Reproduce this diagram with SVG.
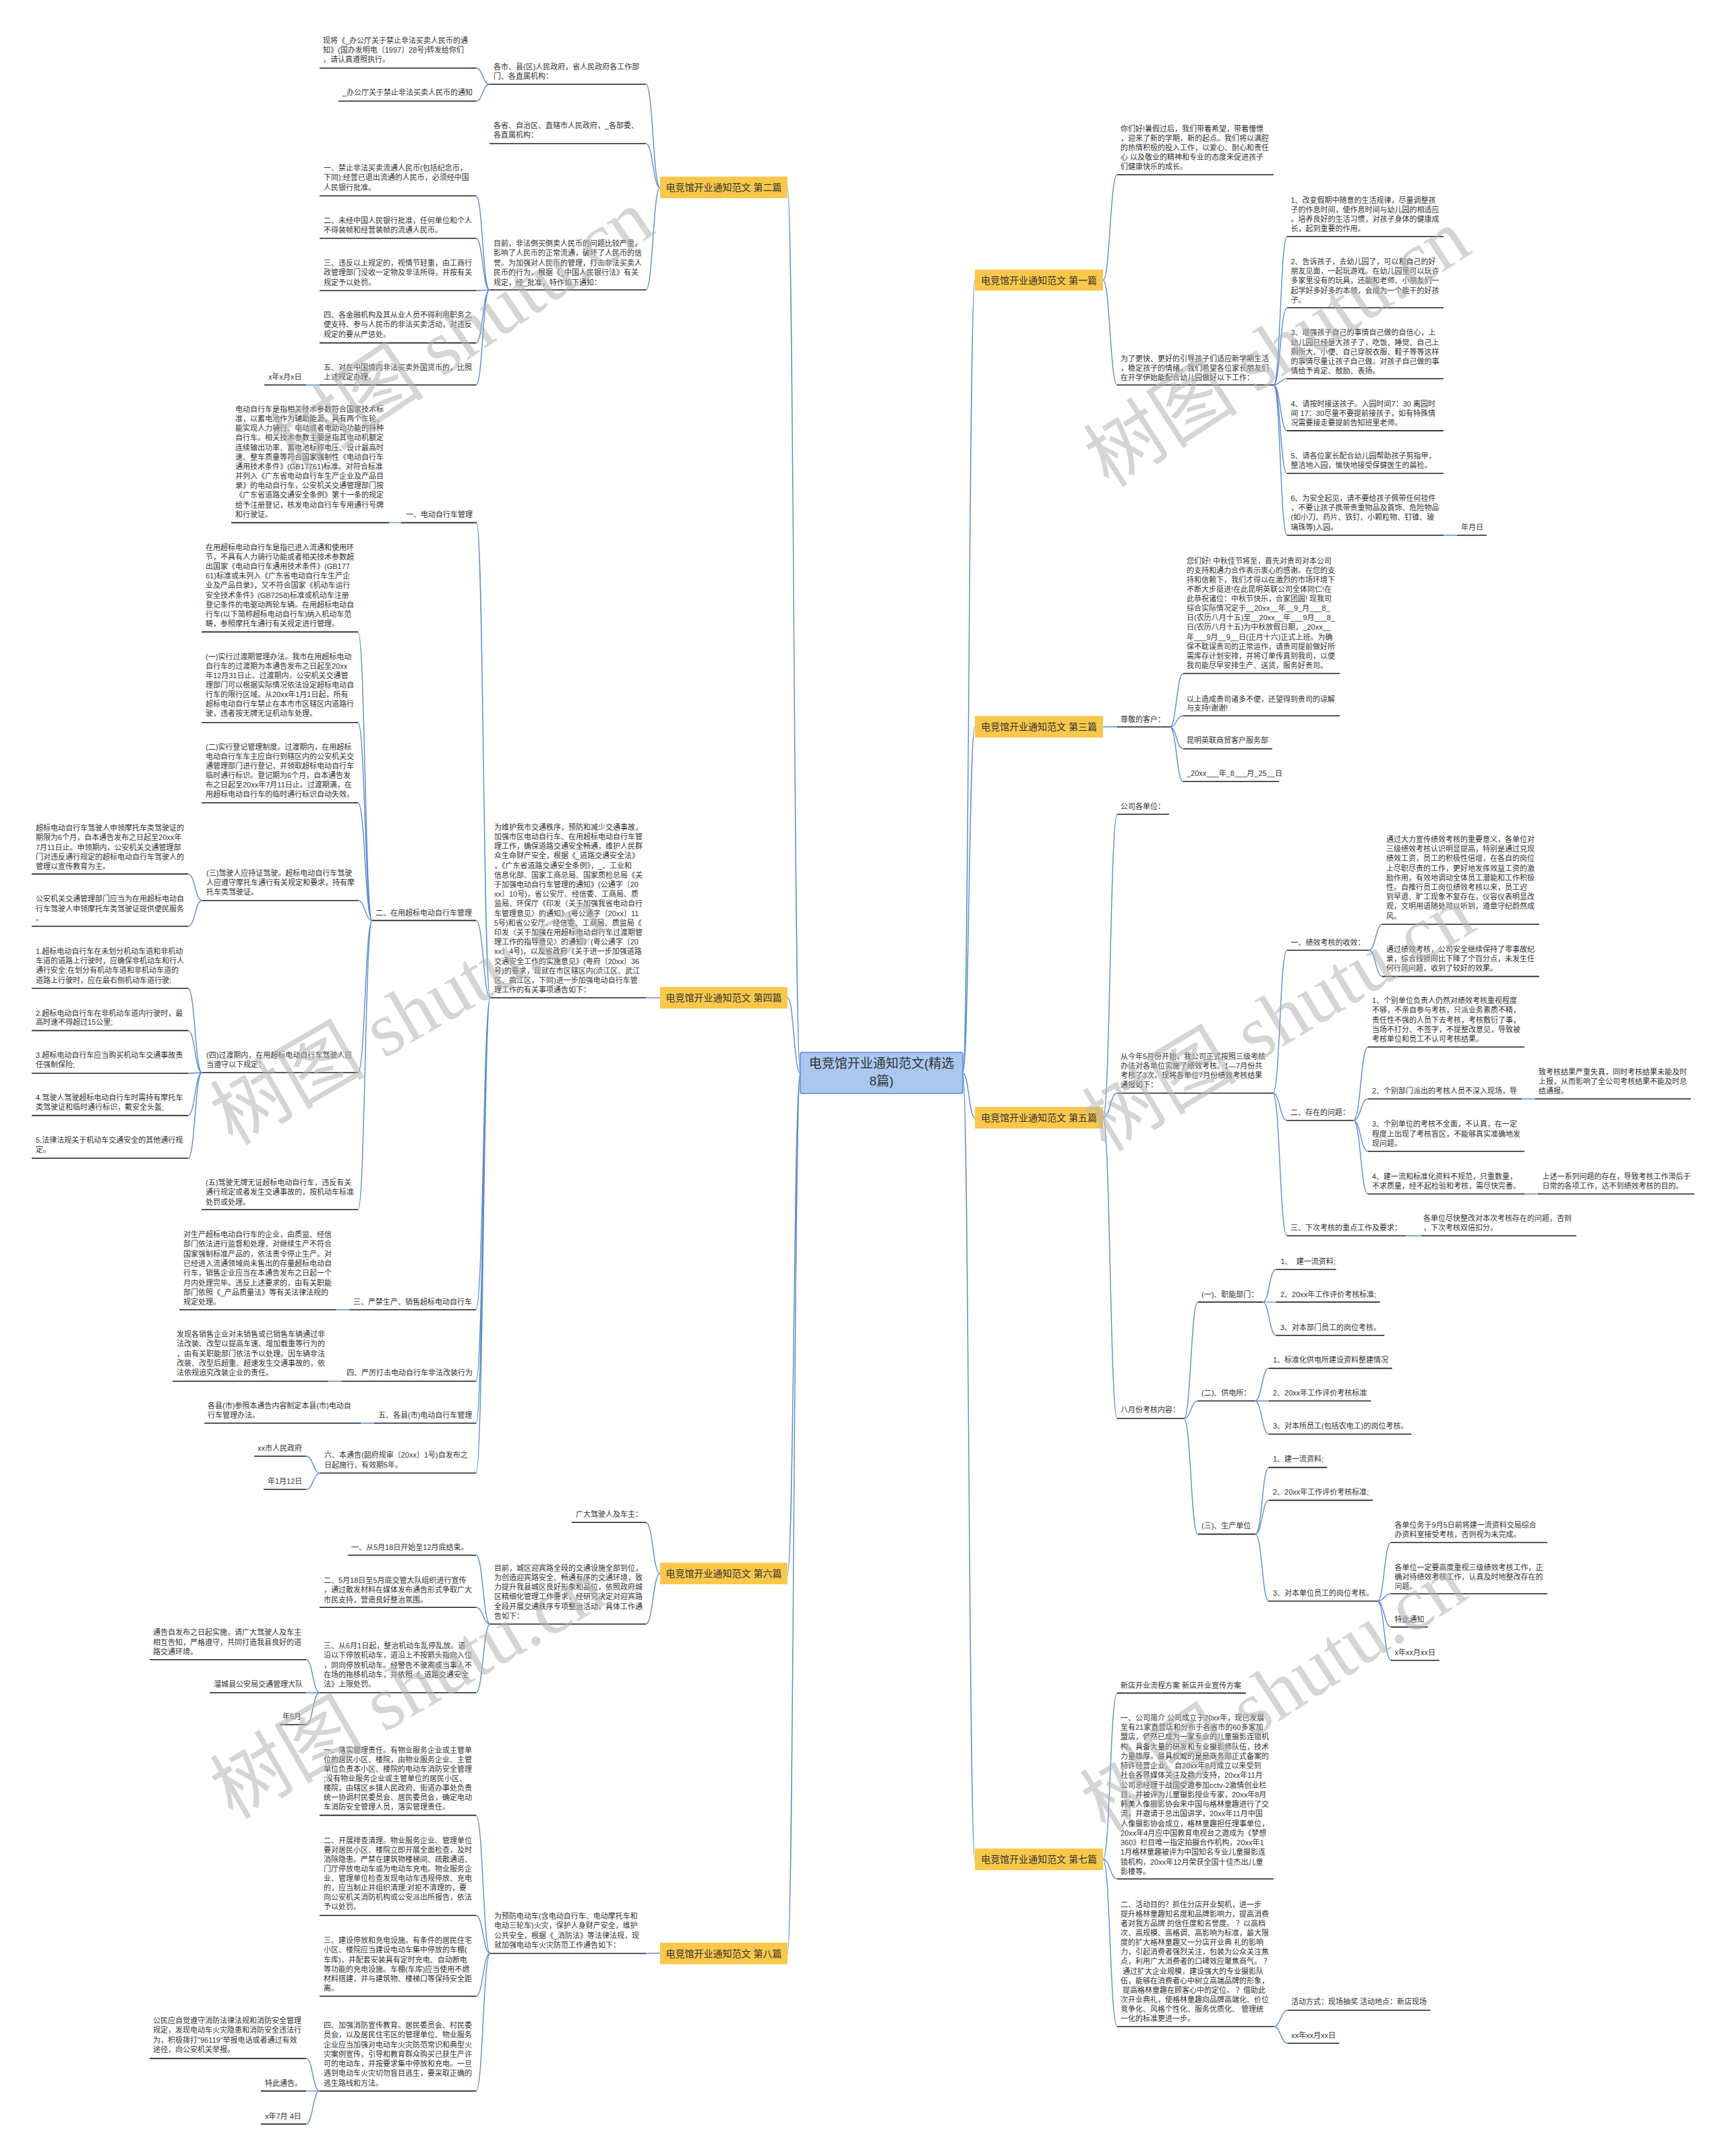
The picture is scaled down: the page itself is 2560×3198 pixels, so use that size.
<svg xmlns="http://www.w3.org/2000/svg" width="2560" height="3198" viewBox="0 0 2560 3198">
<style>
.t{font-family:"Liberation Sans","Noto Sans CJK SC",sans-serif;font-size:11px;fill:#333}
.u{stroke:#1e1e1e;stroke-width:1.6;fill:none}
.c{stroke:#5b8ad4;stroke-width:1.4;fill:none}
.bx{fill:#f9c84a}
.bt{font-family:"Liberation Sans","Noto Sans CJK SC",sans-serif;font-size:14px;fill:#333;text-anchor:middle}
.wm{font-family:"Liberation Serif","Noto Sans CJK SC",serif;font-size:115px;fill:#b4b4b4;opacity:0.55}
</style>
<rect width="2560" height="3198" fill="#fff"/>
<g id="connectors">
<path class="c" d="M1187 1591.5C1177.5 1591.5 1177.5 278 1168 278M1187 1591.5C1177.5 1591.5 1177.5 1480 1168 1480M1187 1591.5C1177.5 1591.5 1177.5 2334 1168 2334M1187 1591.5C1177.5 1591.5 1177.5 2897.3 1168 2897.3"/>
<path class="c" d="M1428 1591.5C1437 1591.5 1437 415.5 1446 415.5M1428 1591.5C1437 1591.5 1437 1078 1446 1078M1428 1591.5C1437 1591.5 1437 1658 1446 1658M1428 1591.5C1437 1591.5 1437 2758 1446 2758"/>
<path class="c" d="M979 278C968.5 278 968.5 125 958 125M979 278C968.5 278 968.5 213 958 213M979 278C968.5 278 968.5 430 958 430"/>
<path class="c" d="M726 125C716 125 716 101 706 101M726 125C716 125 716 150 706 150"/>
<path class="c" d="M726 430C716 430 716 290.5 706 290.5M726 430C716 430 716 353.5 706 353.5M726 430C716 430 716 431 706 431M726 430C716 430 716 508.6 706 508.6M726 430C716 430 716 571 706 571M474 571L454 571"/>
<path class="c" d="M979 1480L958 1480"/>
<path class="c" d="M727 1480C717 1480 717 775.4 707 775.4M727 1480C717 1480 717 1365.4 706 1365.4M727 1480C717 1480 717 1942.7 706 1942.7M727 1480C717 1480 717 2048.7 706 2048.7M727 1480C717 1480 717 2111 706 2111M727 1480C717 1480 717 2185 706 2185"/>
<path class="c" d="M595 775.4L577 775.4M518 1942.7L498 1942.7M507 2048.7L487 2048.7M555 2111L535 2111"/>
<path class="c" d="M552 1365.4C541.5 1365.4 541.5 937.4 531 937.4M552 1365.4C541.5 1365.4 541.5 1071.7 531 1071.7M552 1365.4C541.5 1365.4 541.5 1190.8 531 1190.8M552 1365.4C541.5 1365.4 541.5 1335.7 531 1335.7M552 1365.4C541.5 1365.4 541.5 1591 531 1591M552 1365.4C541.5 1365.4 541.5 1794.3 531 1794.3"/>
<path class="c" d="M299.6 1335.7C289.3 1335.7 289.3 1296.4 279 1296.4M299.6 1335.7C289.3 1335.7 289.3 1374 279 1374"/>
<path class="c" d="M299.6 1591C289.3 1591 289.3 1466 279 1466M299.6 1591C289.3 1591 289.3 1528.6 279 1528.6M299.6 1591C289.3 1591 289.3 1592 279 1592M299.6 1591C289.3 1591 289.3 1654.6 279 1654.6M299.6 1591C289.3 1591 289.3 1718 279 1718"/>
<path class="c" d="M475 2185C464.5 2185 464.5 2160 454 2160M475 2185C464.5 2185 464.5 2209.3 454 2209.3"/>
<path class="c" d="M979 2334C968.5 2334 968.5 2258.3 958 2258.3M979 2334C968.5 2334 968.5 2409 958 2409"/>
<path class="c" d="M727 2409C716.5 2409 716.5 2306.7 706 2306.7M727 2409C716.5 2409 716.5 2384.3 706 2384.3M727 2409C716.5 2409 716.5 2510.7 706 2510.7"/>
<path class="c" d="M474 2510.7C464 2510.7 464 2461.7 454 2461.7M474 2510.7L454 2510.7M474 2510.7C464 2510.7 464 2558.3 454 2558.3"/>
<path class="c" d="M979 2897.3L958 2897.5"/>
<path class="c" d="M727 2897.5C716.5 2897.5 716.5 2692.6 706 2692.6M727 2897.5C716.5 2897.5 716.5 2841.2 706 2841.2M727 2897.5C716.5 2897.5 716.5 2961 706 2961M727 2897.5C716.5 2897.5 716.5 3101.6 706 3101.6"/>
<path class="c" d="M474 3101.6C464 3101.6 464 3053.4 454 3053.4M474 3101.6L454 3101.6M474 3101.6C464 3101.6 464 3150.6 454 3150.6"/>
<path class="c" d="M1636 415.5C1646.5 415.5 1646.5 259.2 1657 259.2M1636 415.5C1646.5 415.5 1646.5 571 1657 571"/>
<path class="c" d="M1889 571C1899 571 1899 350.8 1909 350.8M1889 571C1899 571 1899 456.5 1909 456.5M1889 571C1899 571 1899 561.7 1909 561.7M1889 571C1899 571 1899 638.9 1909 638.9M1889 571C1899 571 1899 702.3 1909 702.3M1889 571C1899 571 1899 794 1909 794M2141 794L2161 794"/>
<path class="c" d="M1636 1078L1657 1078.3"/>
<path class="c" d="M1735 1078.3C1745 1078.3 1745 999 1755 999M1735 1078.3C1745 1078.3 1745 1061.7 1755 1061.7M1735 1078.3C1745 1078.3 1745 1110.7 1755 1110.7M1735 1078.3C1745 1078.3 1745 1159.3 1755 1159.3"/>
<path class="c" d="M1636 1658C1646.5 1658 1646.5 1207.8 1657 1207.8M1636 1658C1646.5 1658 1646.5 1621.5 1657 1621.5M1636 1658C1646.5 1658 1646.5 2104 1657 2104"/>
<path class="c" d="M1888 1621.5C1898.3 1621.5 1898.3 1409.5 1908.7 1409.5M1888 1621.5C1898.3 1621.5 1898.3 1662 1908.7 1662M1888 1621.5C1898.3 1621.5 1898.3 1833 1908.7 1833"/>
<path class="c" d="M2030.4 1409.5C2040.4 1409.5 2040.4 1371 2050.4 1371M2030.4 1409.5C2040.4 1409.5 2040.4 1448.4 2050.4 1448.4"/>
<path class="c" d="M2007.4 1662C2018.2 1662 2018.2 1553 2029 1553M2007.4 1662C2018.2 1662 2018.2 1630 2029 1630M2007.4 1662C2018.2 1662 2018.2 1707.8 2029 1707.8M2007.4 1662C2018.2 1662 2018.2 1771 2029 1771M2257 1630L2277 1630M2261 1771L2281 1771M2085 1833L2108 1833"/>
<path class="c" d="M1756 2104C1766.3 2104 1766.3 1931.4 1776.6 1931.4M1756 2104C1766.3 2104 1766.3 2078 1776.6 2078M1756 2104C1766.3 2104 1766.3 2275.6 1776.6 2275.6"/>
<path class="c" d="M1872.7 1931.4C1882.6 1931.4 1882.6 1883 1892.6 1883M1872.7 1931.4L1892.6 1931.4M1872.7 1931.4C1882.6 1931.4 1882.6 1980.7 1892.6 1980.7"/>
<path class="c" d="M1861.2 2078C1871.5 2078 1871.5 2029.6 1881.9 2029.6M1861.2 2078L1881.9 2078M1861.2 2078C1871.5 2078 1871.5 2127.3 1881.9 2127.3"/>
<path class="c" d="M1862 2275.6C1872 2275.6 1872 2176.6 1881.9 2176.6M1862 2275.6C1872 2275.6 1872 2225.4 1881.9 2225.4M1862 2275.6C1872 2275.6 1872 2375 1881.9 2375"/>
<path class="c" d="M2043 2375C2053 2375 2053 2288 2063 2288M2043 2375C2053 2375 2053 2364 2063 2364M2043 2375C2053 2375 2053 2413.4 2063 2413.4M2043 2375C2053 2375 2053 2462.7 2063 2462.7"/>
<path class="c" d="M1636 2758C1646.5 2758 1646.5 2511.4 1657 2511.4M1636 2758C1646.5 2758 1646.5 2787 1657 2787M1636 2758C1646.5 2758 1646.5 3006 1657 3006"/>
<path class="c" d="M1889 3006C1899.5 3006 1899.5 2981.8 1910 2981.8M1889 3006C1899.5 3006 1899.5 3030.7 1910 3030.7"/>
</g>

<g id="n-center"><rect x="1187" y="1561" width="241" height="61" rx="3" fill="#a9c7ef" stroke="#5b8ad4" stroke-width="1.5"/><text class="bt" style="font-size:19px" x="1307.5" y="1584">电竞馆开业通知范文(精选</text><text class="bt" style="font-size:19px" x="1307.5" y="1610">8篇)</text></g>

<g id="b2"><rect class="bx" x="979" y="262" width="189" height="32"/><text class="bt" x="1073.5" y="283">电竞馆开业通知范文 第二篇</text></g>
<g id="b4"><rect class="bx" x="979" y="1464" width="189" height="32"/><text class="bt" x="1073.5" y="1485">电竞馆开业通知范文 第四篇</text></g>
<g id="b6"><rect class="bx" x="979" y="2318" width="189" height="32"/><text class="bt" x="1073.5" y="2339">电竞馆开业通知范文 第六篇</text></g>
<g id="b8"><rect class="bx" x="979" y="2881.5" width="189" height="32"/><text class="bt" x="1073.5" y="2902.5">电竞馆开业通知范文 第八篇</text></g>
<g id="b1"><rect class="bx" x="1446" y="400" width="190" height="31"/><text class="bt" x="1541" y="420.5">电竞馆开业通知范文 第一篇</text></g>
<g id="b3"><rect class="bx" x="1446" y="1062" width="190" height="32"/><text class="bt" x="1541" y="1083">电竞馆开业通知范文 第三篇</text></g>
<g id="b5"><rect class="bx" x="1446" y="1642" width="190" height="32"/><text class="bt" x="1541" y="1663">电竞馆开业通知范文 第五篇</text></g>
<g id="b7"><rect class="bx" x="1446" y="2742" width="190" height="32"/><text class="bt" x="1541" y="2763">电竞馆开业通知范文 第七篇</text></g>

<!-- 第二篇 -->
<g id="n2a"><text class="t" x="732" y="103"><tspan x="732">各市、县(区)人民政府，省人民政府各工作部</tspan><tspan x="732" dy="13.8">门、各直属机构：</tspan></text><path class="u" d="M726 125H958"/></g>
<g id="n2a1"><text class="t" x="479" y="64.3"><tspan x="479">现将《_办公厅关于禁止非法买卖人民币的通</tspan><tspan x="479" dy="13.8">知》(国办发明电〔1997〕28号)转发给你们</tspan><tspan x="479" dy="13.8">，请认真遵照执行。</tspan></text><path class="u" d="M474 101H706"/></g>
<g id="n2a2"><text class="t" x="508" y="141">_办公厅关于禁止非法买卖人民币的通知</text><path class="u" d="M502 150H706"/></g>
<g id="n2b"><text class="t" x="732" y="190"><tspan x="732">各省、自治区、直辖市人民政府，_各部委、</tspan><tspan x="732" dy="14">各直属机构：</tspan></text><path class="u" d="M726 213H958"/></g>
<g id="n2c"><text class="t" x="732" y="365"><tspan x="732">目前，非法倒买倒卖人民币的问题比较严重，</tspan><tspan x="732" dy="14.4">影响了人民币的正常流通，破坏了人民币的信</tspan><tspan x="732" dy="14.4">誉。为加强对人民币的管理，打击非法买卖人</tspan><tspan x="732" dy="14.4">民币的行为，根据《_中国人民银行法》有关</tspan><tspan x="732" dy="14.4">规定，经_批准，特作如下通知：</tspan></text><path class="u" d="M726 430H958"/></g>
<g id="n2c1"><text class="t" x="480" y="253"><tspan x="480">一、禁止非法买卖流通人民币(包括纪念币，</tspan><tspan x="480" dy="14.3">下同);经营已退出流通的人民币，必须经中国</tspan><tspan x="480" dy="14.3">人民银行批准。</tspan></text><path class="u" d="M474 290.5H706"/></g>
<g id="n2c2"><text class="t" x="480" y="330.5"><tspan x="480">二、未经中国人民银行批准，任何单位和个人</tspan><tspan x="480" dy="14.4">不得装帧和经营装帧的流通人民币。</tspan></text><path class="u" d="M474 353.5H706"/></g>
<g id="n2c3"><text class="t" x="480" y="393.7"><tspan x="480">三、违反以上规定的，视情节轻重，由工商行</tspan><tspan x="480" dy="14.4">政管理部门没收一定物及非法所得，并按有关</tspan><tspan x="480" dy="14.4">规定予以处罚。</tspan></text><path class="u" d="M474 431H706"/></g>
<g id="n2c4"><text class="t" x="480" y="471"><tspan x="480">四、各金融机构及其从业人员不得利用职务之</tspan><tspan x="480" dy="14.3">便支持、参与人民币的非法买卖活动，对违反</tspan><tspan x="480" dy="14.3">规定的要从严惩处。</tspan></text><path class="u" d="M474 508.6H706"/></g>
<g id="n2c5"><text class="t" x="480" y="548.8"><tspan x="480">五、对在中国境内非法买卖外国货币的，比照</tspan><tspan x="480" dy="13.8">上述规定办理。</tspan></text><path class="u" d="M474 571H706"/></g>
<g id="n2c5a"><text class="t" x="398" y="562.6">x年x月x日</text><path class="u" d="M392 571H454"/></g>

<!-- 第四篇 -->
<g id="n4"><text class="t" x="733" y="1230.7"><tspan x="733">为维护我市交通秩序，预防和减少交通事故，</tspan><tspan x="733" dy="14.21">加强市区电动自行车、在用超标电动自行车管</tspan><tspan x="733" dy="14.21">理工作，确保道路交通安全畅通，维护人民群</tspan><tspan x="733" dy="14.21">众生命财产安全，根据《_道路交通安全法》</tspan><tspan x="733" dy="14.21">，《广东省道路交通安全条例》，_、工业和</tspan><tspan x="733" dy="14.21">信息化部、国家工商总局、国家质检总局《关</tspan><tspan x="733" dy="14.21">于加强电动自行车管理的通知》(公通字〔20</tspan><tspan x="733" dy="14.21">xx〕10号)，省公安厅、经信委、工商局、质</tspan><tspan x="733" dy="14.21">监局、环保厅《印发〈关于加强我省电动自行</tspan><tspan x="733" dy="14.21">车管理意见〉的通知》(粤公通字〔20xx〕11</tspan><tspan x="733" dy="14.21">5号)和省公安厅、经信委、工商局、质监局《</tspan><tspan x="733" dy="14.21">印发〈关于加强在用超标电动自行车过渡期管</tspan><tspan x="733" dy="14.21">理工作的指导意见〉的通知》(粤公通字〔20</tspan><tspan x="733" dy="14.21">xx〕4号)，以及省政府《关于进一步加强道路</tspan><tspan x="733" dy="14.21">交通安全工作的实施意见》(粤府〔20xx〕36</tspan><tspan x="733" dy="14.21">号)的要求，现就在市区辖区内(浈江区、武江</tspan><tspan x="733" dy="14.21">区、曲江区，下同)进一步加强电动自行车管</tspan><tspan x="733" dy="14.21">理工作的有关事项通告如下：</tspan></text><path class="u" d="M727 1480H958"/></g>
<g id="n4-1"><text class="t" x="602" y="767">一、电动自行车管理</text><path class="u" d="M595 775.4H707"/></g>
<g id="n4-1a"><text class="t" x="349" y="611"><tspan x="349">电动自行车是指相关技术参数符合国家技术标</tspan><tspan x="349" dy="14.16">准，以蓄电池作为辅助能源，具有两个车轮、</tspan><tspan x="349" dy="14.16">能实现人力骑行、电动或者电助动功能的特种</tspan><tspan x="349" dy="14.16">自行车。相关技术参数主要是指其电动机额定</tspan><tspan x="349" dy="14.16">连续输出功率、蓄电池标称电压、设计最高时</tspan><tspan x="349" dy="14.16">速、整车质量等符合国家强制性《电动自行车</tspan><tspan x="349" dy="14.16">通用技术条件》(GB17761)标准。对符合标准</tspan><tspan x="349" dy="14.16">并列入《广东省电动自行车生产企业及产品目</tspan><tspan x="349" dy="14.16">录》的电动自行车，公安机关交通管理部门按</tspan><tspan x="349" dy="14.16">《广东省道路交通安全条例》第十一条的规定</tspan><tspan x="349" dy="14.16">给予注册登记，核发电动自行车专用通行号牌</tspan><tspan x="349" dy="14.16">和行驶证。</tspan></text><path class="u" d="M343 775.4H577"/></g>
<g id="n4-2"><text class="t" x="557" y="1358">二、在用超标电动自行车管理</text><path class="u" d="M552 1365.4H706"/></g>
<g id="n4-2a"><text class="t" x="305" y="816"><tspan x="305">在用超标电动自行车是指已进入流通和使用环</tspan><tspan x="305" dy="14.1">节，不具有人力骑行功能或者相关技术参数超</tspan><tspan x="305" dy="14.1">出国家《电动自行车通用技术条件》(GB177</tspan><tspan x="305" dy="14.1">61)标准或未列入《广东省电动自行车生产企</tspan><tspan x="305" dy="14.1">业及产品目录》，又不符合国家《机动车运行</tspan><tspan x="305" dy="14.1">安全技术条件》(GB7258)标准或机动车注册</tspan><tspan x="305" dy="14.1">登记条件的电驱动两轮车辆。在用超标电动自</tspan><tspan x="305" dy="14.1">行车(以下简称超标电动自行车)纳入机动车范</tspan><tspan x="305" dy="14.1">畴，参照摩托车通行有关规定进行管理。</tspan></text><path class="u" d="M299 937.4H531"/></g>
<g id="n4-2b"><text class="t" x="305" y="978"><tspan x="305">(一)实行过渡期管理办法。我市在用超标电动</tspan><tspan x="305" dy="14">自行车的过渡期为本通告发布之日起至20xx</tspan><tspan x="305" dy="14">年12月31日止。过渡期内，公安机关交通管</tspan><tspan x="305" dy="14">理部门可以根据实际情况依法设定超标电动自</tspan><tspan x="305" dy="14">行车的限行区域。从20xx年1月1日起，所有</tspan><tspan x="305" dy="14">超标电动自行车禁止在本市市区辖区内道路行</tspan><tspan x="305" dy="14">驶，违者按无牌无证机动车处理。</tspan></text><path class="u" d="M299 1071.7H531"/></g>
<g id="n4-2c"><text class="t" x="305" y="1111.5"><tspan x="305">(二)实行登记管理制度。过渡期内，在用超标</tspan><tspan x="305" dy="14.1">电动自行车车主应自行到辖区内的公安机关交</tspan><tspan x="305" dy="14.1">通管理部门进行登记，并领取超标电动自行车</tspan><tspan x="305" dy="14.1">临时通行标识。登记期为6个月，自本通告发</tspan><tspan x="305" dy="14.1">布之日起至20xx年7月11日止。过渡期满，在</tspan><tspan x="305" dy="14.1">用超标电动自行车的临时通行标识自动失效。</tspan></text><path class="u" d="M299 1190.8H531"/></g>
<g id="n4-2d"><text class="t" x="306" y="1298.6"><tspan x="306">(三)驾驶人应持证驾驶。超标电动自行车驾驶</tspan><tspan x="306" dy="14.2">人应遵守摩托车通行有关规定和要求，持有摩</tspan><tspan x="306" dy="14.2">托车类驾驶证。</tspan></text><path class="u" d="M299.6 1335.7H531"/></g>
<g id="n4-2d1"><text class="t" x="53" y="1232"><tspan x="53">超标电动自行车驾驶人申领摩托车类驾驶证的</tspan><tspan x="53" dy="14.3">期限为6个月，自本通告发布之日起至20xx年</tspan><tspan x="53" dy="14.3">7月11日止。申领期内，公安机关交通管理部</tspan><tspan x="53" dy="14.3">门对违反通行规定的超标电动自行车驾驶人的</tspan><tspan x="53" dy="14.3">管理以宣传教育为主。</tspan></text><path class="u" d="M47 1296.4H279"/></g>
<g id="n4-2d2"><text class="t" x="53" y="1337"><tspan x="53">公安机关交通管理部门应当为在用超标电动自</tspan><tspan x="53" dy="14.6">行车驾驶人申领摩托车类驾驶证提供便民服务</tspan><tspan x="53" dy="14.6">。</tspan></text><path class="u" d="M47 1374H279"/></g>
<g id="n4-2e"><text class="t" x="306" y="1569"><tspan x="306">(四)过渡期内，在用超标电动自行车驾驶人应</tspan><tspan x="306" dy="13.6">当遵守以下规定：</tspan></text><path class="u" d="M299.6 1591H531"/></g>
<g id="n4-2e1"><text class="t" x="53" y="1414.7"><tspan x="53">1.超标电动自行车在未划分机动车道和非机动</tspan><tspan x="53" dy="14.3">车道的道路上行驶时，应确保非机动车和行人</tspan><tspan x="53" dy="14.3">通行安全;在划分有机动车道和非机动车道的</tspan><tspan x="53" dy="14.3">道路上行驶时，应在最右侧机动车道行驶;</tspan></text><path class="u" d="M47 1466H279"/></g>
<g id="n4-2e2"><text class="t" x="53" y="1506.5"><tspan x="53">2.超标电动自行车在非机动车道内行驶时，最</tspan><tspan x="53" dy="13.9">高时速不得超过15公里;</tspan></text><path class="u" d="M47 1528.6H279"/></g>
<g id="n4-2e3"><text class="t" x="53" y="1569"><tspan x="53">3.超标电动自行车应当购买机动车交通事故责</tspan><tspan x="53" dy="14">任强制保险;</tspan></text><path class="u" d="M47 1592H279"/></g>
<g id="n4-2e4"><text class="t" x="53" y="1632"><tspan x="53">4.驾驶人驾驶超标电动自行车时需持有摩托车</tspan><tspan x="53" dy="14.1">类驾驶证和临时通行标识，戴安全头盔;</tspan></text><path class="u" d="M47 1654.6H279"/></g>
<g id="n4-2e5"><text class="t" x="53" y="1695"><tspan x="53">5.法律法规关于机动车交通安全的其他通行规</tspan><tspan x="53" dy="14">定。</tspan></text><path class="u" d="M47 1718H279"/></g>
<g id="n4-2f"><text class="t" x="305" y="1757.6"><tspan x="305">(五)驾驶无牌无证超标电动自行车，违反有关</tspan><tspan x="305" dy="14.45">通行规定或者发生交通事故的，按机动车标准</tspan><tspan x="305" dy="14.45">处罚或处理。</tspan></text><path class="u" d="M299 1794.3H531"/></g>
<g id="n4-3"><text class="t" x="524" y="1935">三、严禁生产、销售超标电动自行车</text><path class="u" d="M518 1942.7H706"/></g>
<g id="n4-3a"><text class="t" x="272" y="1835"><tspan x="272">对生产超标电动自行车的企业，由质监、经信</tspan><tspan x="272" dy="14.3">部门依法进行监督和处理，对继续生产不符合</tspan><tspan x="272" dy="14.3">国家强制标准产品的，依法责令停止生产。对</tspan><tspan x="272" dy="14.3">已经进入流通领域尚未售出的存量超标电动自</tspan><tspan x="272" dy="14.3">行车，销售企业应当在本通告发布之日起一个</tspan><tspan x="272" dy="14.3">月内处理完毕。违反上述要求的，由有关职能</tspan><tspan x="272" dy="14.3">部门依照《_产品质量法》等有关法律法规的</tspan><tspan x="272" dy="14.3">规定处理。</tspan></text><path class="u" d="M266 1942.7H498"/></g>
<g id="n4-4"><text class="t" x="514" y="2040">四、严厉打击电动自行车非法改装行为</text><path class="u" d="M507 2048.7H706"/></g>
<g id="n4-4a"><text class="t" x="262" y="1983"><tspan x="262">发现各销售企业对未销售或已销售车辆通过非</tspan><tspan x="262" dy="14.25">法改装、改型以提高车速、增加载重等行为的</tspan><tspan x="262" dy="14.25">，由有关职能部门依法予以处理。因车辆非法</tspan><tspan x="262" dy="14.25">改装、改型后超重、超速发生交通事故的，依</tspan><tspan x="262" dy="14.25">法依规追究改装企业的责任。</tspan></text><path class="u" d="M256 2048.7H487"/></g>
<g id="n4-5"><text class="t" x="561" y="2103">五、各县(市)电动自行车管理</text><path class="u" d="M555 2111H706"/></g>
<g id="n4-5a"><text class="t" x="308" y="2089"><tspan x="308">各县(市)参照本通告内容制定本县(市)电动自</tspan><tspan x="308" dy="14.3">行车管理办法。</tspan></text><path class="u" d="M303 2111H535"/></g>
<g id="n4-6"><text class="t" x="481" y="2162"><tspan x="481">六、本通告(韶府规审〔20xx〕1号)自发布之</tspan><tspan x="481" dy="14.7">日起施行，有效期5年。</tspan></text><path class="u" d="M475 2185H706"/></g>
<g id="n4-6a"><text class="t" x="382" y="2151.7">xx市人民政府</text><path class="u" d="M377 2160H454"/></g>
<g id="n4-6b"><text class="t" x="397" y="2200.7">年1月12日</text><path class="u" d="M391 2209.3H454"/></g>

<!-- 第六篇 -->
<g id="n6a"><text class="t" x="854" y="2250">广大驾驶人及车主：</text><path class="u" d="M848 2258.3H958"/></g>
<g id="n6b"><text class="t" x="733" y="2330"><tspan x="733">目前，城区迎宾路全段的交通设施全部到位，</tspan><tspan x="733" dy="14.15">为创造迎宾路安全、畅通有序的交通环境，致</tspan><tspan x="733" dy="14.15">力提升我县城区良好形象和品位，依照政府城</tspan><tspan x="733" dy="14.15">区精细化管理工作要求，经研究决定对迎宾路</tspan><tspan x="733" dy="14.15">全段开展交通秩序专项整治活动，具体工作通</tspan><tspan x="733" dy="14.15">告如下：</tspan></text><path class="u" d="M727 2409H958"/></g>
<g id="n6b1"><text class="t" x="521" y="2299">一、从5月18日开始至12月底结束。</text><path class="u" d="M516 2306.7H706"/></g>
<g id="n6b2"><text class="t" x="480" y="2348"><tspan x="480">二、5月18日至5月底交管大队组织进行宣传</tspan><tspan x="480" dy="14.35">，通过散发材料在媒体发布通告形式争取广大</tspan><tspan x="480" dy="14.35">市民支持，营造良好整治氛围。</tspan></text><path class="u" d="M474 2384.3H706"/></g>
<g id="n6b3"><text class="t" x="480" y="2445"><tspan x="480">三、从6月1日起，整治机动车乱停乱放。道</tspan><tspan x="480" dy="14.3">沿以下停放机动车，道沿上不按箭头指向入位</tspan><tspan x="480" dy="14.3">，同向停放机动车。经警告不驶离或当事人不</tspan><tspan x="480" dy="14.3">在场的拖移机动车，并依照《_道路交通安全</tspan><tspan x="480" dy="14.3">法》上限处罚。</tspan></text><path class="u" d="M474 2510.7H706"/></g>
<g id="n6b3a"><text class="t" x="227" y="2425"><tspan x="227">通告自发布之日起实施，请广大驾驶人及车主</tspan><tspan x="227" dy="14.5">相互告知，严格遵守，共同打造我县良好的道</tspan><tspan x="227" dy="14.5">路交通环境。</tspan></text><path class="u" d="M222 2461.7H454"/></g>
<g id="n6b3b"><text class="t" x="317" y="2501.7">溜城县公安局交通管理大队</text><path class="u" d="M311 2510.7H454"/></g>
<g id="n6b3c"><text class="t" x="419" y="2550">年5月</text><path class="u" d="M415 2558.3H454"/></g>

<!-- 第八篇 -->
<g id="n8"><text class="t" x="733" y="2846.4"><tspan x="733">为预防电动车(含电动自行车、电动摩托车和</tspan><tspan x="733" dy="14.07">电动三轮车)火灾，保护人身财产安全，维护</tspan><tspan x="733" dy="14.07">公共安全，根据《_消防法》等法律法规，现</tspan><tspan x="733" dy="14.07">就加强电动车火灾防范工作通告如下：</tspan></text><path class="u" d="M727 2897.5H958"/></g>
<g id="n8a"><text class="t" x="480" y="2600"><tspan x="480">一、落实管理责任。有物业服务企业或主管单</tspan><tspan x="480" dy="14.08">位的居民小区、楼院，由物业服务企业、主管</tspan><tspan x="480" dy="14.08">单位负责本小区、楼院的电动车消防安全管理</tspan><tspan x="480" dy="14.08">;没有物业服务企业或主管单位的居民小区、</tspan><tspan x="480" dy="14.08">楼院，由辖区乡镇人民政府、街道办事处负责</tspan><tspan x="480" dy="14.08">统一协调村民委员会、居民委员会，确定电动</tspan><tspan x="480" dy="14.08">车消防安全管理人员，落实管理责任。</tspan></text><path class="u" d="M474 2692.6H706"/></g>
<g id="n8b"><text class="t" x="480" y="2734"><tspan x="480">二、开展排查清理。物业服务企业、管理单位</tspan><tspan x="480" dy="14.06">要对居民小区、楼院立即开展全面检查，及时</tspan><tspan x="480" dy="14.06">消除隐患。严禁在建筑物楼梯间、疏散通道、</tspan><tspan x="480" dy="14.06">门厅停放电动车或为电动车充电。物业服务企</tspan><tspan x="480" dy="14.06">业、管理单位检查发现电动车违规停放、充电</tspan><tspan x="480" dy="14.06">的，应当制止并组织清理;对拒不清理的，要</tspan><tspan x="480" dy="14.06">向公安机关消防机构或公安派出所报告，依法</tspan><tspan x="480" dy="14.06">予以处罚。</tspan></text><path class="u" d="M474 2841.2H706"/></g>
<g id="n8c"><text class="t" x="480" y="2882.2"><tspan x="480">三、建设停放和充电设施。有条件的居民住宅</tspan><tspan x="480" dy="14.16">小区、楼院应当建设电动车集中停放的车棚(</tspan><tspan x="480" dy="14.16">车库)，并配套安装具有定时充电、自动断电</tspan><tspan x="480" dy="14.16">等功能的充电设施。车棚(车库)应当使用不燃</tspan><tspan x="480" dy="14.16">材料搭建，并与建筑物、楼梯口等保持安全距</tspan><tspan x="480" dy="14.16">离。</tspan></text><path class="u" d="M474 2961H706"/></g>
<g id="n8d"><text class="t" x="480" y="3008"><tspan x="480">四、加强消防宣传教育。居民委员会、村民委</tspan><tspan x="480" dy="14.25">员会，以及居民住宅区的管理单位、物业服务</tspan><tspan x="480" dy="14.25">企业应当加强对电动车火灾防范常识和典型火</tspan><tspan x="480" dy="14.25">灾案例宣传，引导和教育群众购买已获生产许</tspan><tspan x="480" dy="14.25">可的电动车，并按要求集中停放和充电。一旦</tspan><tspan x="480" dy="14.25">遇到电动车火灾切勿盲目逃生，要采取正确的</tspan><tspan x="480" dy="14.25">逃生路线和方法。</tspan></text><path class="u" d="M474 3101.6H706"/></g>
<g id="n8d1"><text class="t" x="227" y="3001"><tspan x="227">公民应自觉遵守消防法律法规和消防安全管理</tspan><tspan x="227" dy="14.3">规定，发现电动车火灾隐患和消防安全违法行</tspan><tspan x="227" dy="14.3">为，积极拨打"96119"举报电话或者通过有效</tspan><tspan x="227" dy="14.3">途径，向公安机关举报。</tspan></text><path class="u" d="M222 3053.4H454"/></g>
<g id="n8d2"><text class="t" x="393" y="3093.5">特此通告。</text><path class="u" d="M387 3101.6H454"/></g>
<g id="n8d3"><text class="t" x="393" y="3142.5">x年7月 4日</text><path class="u" d="M387 3150.6H454"/></g>

<!-- 第一篇 -->
<g id="n1a"><text class="t" x="1662" y="194.9"><tspan x="1662">你们好!暑假过后，我们带着希望，带着憧憬</tspan><tspan x="1662" dy="14.1">，迎来了新的学期，新的起点。我们将以满腔</tspan><tspan x="1662" dy="14.1">的热情积极的投入工作，以爱心、耐心和责任</tspan><tspan x="1662" dy="14.1">心 以及敬业的精神和专业的态度来促进孩子</tspan><tspan x="1662" dy="14.1">们健康快乐的成长。</tspan></text><path class="u" d="M1657 259.2H1889"/></g>
<g id="n1b"><text class="t" x="1662" y="535.6"><tspan x="1662">为了更快、更好的引导孩子们适应新学期生活</tspan><tspan x="1662" dy="14.05">，稳定孩子的情绪，我们希望各位家长朋友们</tspan><tspan x="1662" dy="14.05">在开学伊始能配合幼儿园做好以下工作：</tspan></text><path class="u" d="M1657 571H1889"/></g>
<g id="n1b1"><text class="t" x="1914.5" y="300.6"><tspan x="1914.5">1、改变假期中随意的生活规律，尽量调整孩</tspan><tspan x="1914.5" dy="14.03">子的作息时间，使作息时间与幼儿园的相适应</tspan><tspan x="1914.5" dy="14.03">。培养良好的生活习惯，对孩子身体的健康成</tspan><tspan x="1914.5" dy="14.03">长，起到重要的作用。</tspan></text><path class="u" d="M1909 350.8H2141"/></g>
<g id="n1b2"><text class="t" x="1914.5" y="391.8"><tspan x="1914.5">2、告诉孩子，去幼儿园了，可以和自己的好</tspan><tspan x="1914.5" dy="14.3">朋友见面，一起玩游戏。在幼儿园里可以玩许</tspan><tspan x="1914.5" dy="14.3">多家里没有的玩具，还能和老师、小朋友们一</tspan><tspan x="1914.5" dy="14.3">起学好多好多的本领，会成为一个能干的好孩</tspan><tspan x="1914.5" dy="14.3">子。</tspan></text><path class="u" d="M1909 456.5H2141"/></g>
<g id="n1b3"><text class="t" x="1914.5" y="497.4"><tspan x="1914.5">3、增强孩子自己的事情自己做的自信心，上</tspan><tspan x="1914.5" dy="14.1">幼儿园已经是大孩子了，吃饭、睡觉、自己上</tspan><tspan x="1914.5" dy="14.1">厕所大、小便、自己穿脱衣服、鞋子等等这样</tspan><tspan x="1914.5" dy="14.1">的事情尽量让孩子自己做。对孩子自己做的事</tspan><tspan x="1914.5" dy="14.1">情给予肯定、鼓励、表扬。</tspan></text><path class="u" d="M1909 561.7H2141"/></g>
<g id="n1b4"><text class="t" x="1914.5" y="603"><tspan x="1914.5">4、请按时接送孩子。入园时间7：30 离园时</tspan><tspan x="1914.5" dy="13.9">间 17：30尽量不要提前接孩子，如有特殊情</tspan><tspan x="1914.5" dy="13.9">况需要接走要提前告知班里老师。</tspan></text><path class="u" d="M1909 638.9H2141"/></g>
<g id="n1b5"><text class="t" x="1914.5" y="680.2"><tspan x="1914.5">5、请各位家长配合幼儿园帮助孩子剪指甲，</tspan><tspan x="1914.5" dy="14.1">整洁地入园，愉快地接受保健医生的晨检。</tspan></text><path class="u" d="M1909 702.3H2141"/></g>
<g id="n1b6"><text class="t" x="1914.5" y="743.3"><tspan x="1914.5">6、为安全起见，请不要给孩子佩带任何挂件</tspan><tspan x="1914.5" dy="14.07">，不要让孩子携带贵重物品及首饰、危险物品</tspan><tspan x="1914.5" dy="14.07">(如小刀、药片、铁钉、小颗粒物、钉锥、玻</tspan><tspan x="1914.5" dy="14.07">璃珠等)入园。</tspan></text><path class="u" d="M1909 794H2141"/></g>
<g id="n1b6a"><text class="t" x="2167" y="785.5">年月日</text><path class="u" d="M2161 794H2205"/></g>

<!-- 第三篇 -->
<g id="n3"><text class="t" x="1662" y="1070.7">尊敬的客户：</text><path class="u" d="M1657 1078.3H1735"/></g>
<g id="n3a"><text class="t" x="1760" y="835.7"><tspan x="1760">您们好! 中秋佳节将至，首先对贵司对本公司</tspan><tspan x="1760" dy="14.1">的支持和通力合作表示衷心的感谢。在您的支</tspan><tspan x="1760" dy="14.1">持和信赖下，我们才得以在激烈的市场环境下</tspan><tspan x="1760" dy="14.1">不断大步挺进!在此昆明英联公司全体同仁!在</tspan><tspan x="1760" dy="14.1">此恭祝诸位：中秋节快乐，合家团圆! 现我司</tspan><tspan x="1760" dy="14.1">综合实际情况定于__20xx__年__9_月___8_</tspan><tspan x="1760" dy="14.1">日(农历八月十五)至__20xx__年___9月___8_</tspan><tspan x="1760" dy="14.1">日(农历八月十五)为中秋放假日期，_20xx__</tspan><tspan x="1760" dy="14.1">年___9月__9__日(正月十六)正式上班。为确</tspan><tspan x="1760" dy="14.1">保不耽误贵司的正常运作，请贵司提前做好所</tspan><tspan x="1760" dy="14.1">需库存计划安排，并将订单传真到我司，以便</tspan><tspan x="1760" dy="14.1">我司能尽早安排生产、送货，服务好贵司。</tspan></text><path class="u" d="M1755 999H1987"/></g>
<g id="n3b"><text class="t" x="1760" y="1040.7"><tspan x="1760">以上造成贵司诸多不便，还望得到贵司的谅解</tspan><tspan x="1760" dy="13.3">与支持!谢谢!</tspan></text><path class="u" d="M1755 1061.7H1987"/></g>
<g id="n3c"><text class="t" x="1760" y="1102.3">昆明英联商贸客户服务部</text><path class="u" d="M1755 1110.7H1887"/></g>
<g id="n3d"><text class="t" x="1760" y="1151.3">_20xx___年_8___月_25__日</text><path class="u" d="M1755 1159.3H1897"/></g>

<!-- 第五篇 -->
<g id="n5a"><text class="t" x="1662" y="1200">公司各单位：</text><path class="u" d="M1657 1207.8H1734"/></g>
<g id="n5b"><text class="t" x="1662" y="1570.8"><tspan x="1662">从今年5月份开始，我公司正式按照三级考核</tspan><tspan x="1662" dy="13.9">办法对各单位实施了绩效考核。1—7月份共</tspan><tspan x="1662" dy="13.9">考核了3次。现将各单位7月份绩效考核结果</tspan><tspan x="1662" dy="13.9">通报如下：</tspan></text><path class="u" d="M1657 1621.5H1888"/></g>
<g id="n5b1"><text class="t" x="1914.4" y="1402">一、绩效考核的收效：</text><path class="u" d="M1908.7 1409.5H2030.4"/></g>
<g id="n5b1a"><text class="t" x="2056" y="1249"><tspan x="2056">通过大力宣传绩效考核的重要意义，各单位对</tspan><tspan x="2056" dy="14.2">三级绩效考核认识明显提高，特别是通过兑现</tspan><tspan x="2056" dy="14.2">绩效工资，员工的积极性倍增，在各自的岗位</tspan><tspan x="2056" dy="14.2">上尽职尽责的工作，更好地发挥效益工资的激</tspan><tspan x="2056" dy="14.2">励作用，有效地调动全体员工潜能和工作积极</tspan><tspan x="2056" dy="14.2">性。自推行员工岗位绩效考核以来，员工迟</tspan><tspan x="2056" dy="14.2">到早退、旷工现象不复存在，仪容仪表明显改</tspan><tspan x="2056" dy="14.2">观，文明用语随处可以听到，遵章守纪蔚然成</tspan><tspan x="2056" dy="14.2">风。</tspan></text><path class="u" d="M2050 1371H2283"/></g>
<g id="n5b1b"><text class="t" x="2056" y="1411.8"><tspan x="2056">通过绩效考核，公司安全继续保持了零事故纪</tspan><tspan x="2056" dy="14.3">录，综合线损同比下降了个百分点，未发生任</tspan><tspan x="2056" dy="14.3">何行风问题，收到了较好的效果。</tspan></text><path class="u" d="M2050 1448.4H2283"/></g>
<g id="n5b2"><text class="t" x="1914" y="1654">二、存在的问题：</text><path class="u" d="M1908.7 1662H2007.4"/></g>
<g id="n5b2a"><text class="t" x="2035" y="1488"><tspan x="2035">1、个别单位负责人仍然对绩效考核重视程度</tspan><tspan x="2035" dy="14.25">不够，不亲自参与考核，只派业务素质不精，</tspan><tspan x="2035" dy="14.25">责任性不强的人员下去考核，考核敷衍了事，</tspan><tspan x="2035" dy="14.25">当场不打分、不签字，不提整改意见，导致被</tspan><tspan x="2035" dy="14.25">考核单位和员工不认可考核结果。</tspan></text><path class="u" d="M2029 1553H2261"/></g>
<g id="n5b2b"><text class="t" x="2035" y="1622">2、个别部门派出的考核人员不深入现场，导</text><path class="u" d="M2029 1630H2257"/></g>
<g id="n5b2b1"><text class="t" x="2282" y="1594"><tspan x="2282">致考核结果严重失真，同时考核结果未能及时</tspan><tspan x="2282" dy="14">上报，从而影响了全公司考核结果不能及时总</tspan><tspan x="2282" dy="14">结通报。</tspan></text><path class="u" d="M2277 1630H2508"/></g>
<g id="n5b2c"><text class="t" x="2035" y="1671"><tspan x="2035">3、个别单位的考核不全面，不认真，在一定</tspan><tspan x="2035" dy="14.5">程度上出现了考核盲区，不能够真实准确地发</tspan><tspan x="2035" dy="14.5">现问题。</tspan></text><path class="u" d="M2029 1707.8H2261"/></g>
<g id="n5b2d"><text class="t" x="2035" y="1749"><tspan x="2035">4、建一流和标准化资料不规范，只重数量，</tspan><tspan x="2035" dy="14">不求质量，经不起检验和考核，需尽快完善。</tspan></text><path class="u" d="M2029 1771H2261"/></g>
<g id="n5b2d1"><text class="t" x="2287.5" y="1749"><tspan x="2287.5">上述一系列问题的存在，导致考核工作滞后于</tspan><tspan x="2287.5" dy="14">日常的各项工作，达不到绩效考核的目的。</tspan></text><path class="u" d="M2281 1771H2513"/></g>
<g id="n5b3"><text class="t" x="1914" y="1825">三、下次考核的重点工作及要求：</text><path class="u" d="M1908.7 1833H2085"/></g>
<g id="n5b3a"><text class="t" x="2111" y="1811"><tspan x="2111">各单位尽快整改对本次考核存在的问题，否则</tspan><tspan x="2111" dy="14">，下次考核双倍扣分。</tspan></text><path class="u" d="M2108 1833H2338"/></g>
<g id="n5c"><text class="t" x="1662" y="2095">八月份考核内容：</text><path class="u" d="M1657 2104H1756"/></g>
<g id="n5c1"><text class="t" x="1782" y="1923.5">(一)、职能部门：</text><path class="u" d="M1776.6 1931.4H1872.7"/></g>
<g id="n5c1a"><text class="t" x="1899.5" y="1874.7" xml:space="preserve">1、  建一流资料;</text><path class="u" d="M1892.6 1883H1981.7"/></g>
<g id="n5c1b"><text class="t" x="1899" y="1923.5">2、20xx年工作评价考核标准;</text><path class="u" d="M1892.6 1931.4H2046.8"/></g>
<g id="n5c1c"><text class="t" x="1899" y="1972.8">3、对本部门员工的岗位考核。</text><path class="u" d="M1892.6 1980.7H2053.3"/></g>
<g id="n5c2"><text class="t" x="1782" y="2069.7">(二)、供电所：</text><path class="u" d="M1776.6 2078H1861.2"/></g>
<g id="n5c2a"><text class="t" x="1888" y="2021.3">1、标准化供电所建设资料整建情况</text><path class="u" d="M1881.9 2029.6H2064.8"/></g>
<g id="n5c2b"><text class="t" x="1888" y="2069.7">2、20xx年工作评价考核标准</text><path class="u" d="M1881.9 2078H2033.4"/></g>
<g id="n5c2c"><text class="t" x="1888" y="2119">3、对本所员工(包括农电工)的岗位考核。</text><path class="u" d="M1881.9 2127.3H2093.5"/></g>
<g id="n5c3"><text class="t" x="1782" y="2266.8">(三)、生产单位</text><path class="u" d="M1776.6 2275.6H1862"/></g>
<g id="n5c3a"><text class="t" x="1888" y="2167.8">1、建一流资料;</text><path class="u" d="M1881.9 2176.6H1968.4"/></g>
<g id="n5c3b"><text class="t" x="1888" y="2217">2、20xx年工作评价考核标准;</text><path class="u" d="M1881.9 2225.4H2036"/></g>
<g id="n5c3c"><text class="t" x="1888" y="2366.8">3、对本单位员工的岗位考核。</text><path class="u" d="M1881.9 2375H2043"/></g>
<g id="n5c3c1"><text class="t" x="2068.6" y="2265.5"><tspan x="2068.6">各单位务于9月5日前将建一流资料交局综合</tspan><tspan x="2068.6" dy="14.1">办资料室接受考核，否则视为未完成。</tspan></text><path class="u" d="M2063 2288H2295"/></g>
<g id="n5c3c2"><text class="t" x="2068.6" y="2328.5"><tspan x="2068.6">各单位一定要高度重视三级绩效考核工作，正</tspan><tspan x="2068.6" dy="14.1">确对待绩效考核工作，认真及时地整改存在的</tspan><tspan x="2068.6" dy="14.1">问题。</tspan></text><path class="u" d="M2063 2364H2295"/></g>
<g id="n5c3c3"><text class="t" x="2068.6" y="2406.4">特此通知</text><path class="u" d="M2063 2413.4H2117.6"/></g>
<g id="n5c3c4"><text class="t" x="2068.6" y="2454.8">x年xx月xx日</text><path class="u" d="M2063 2462.7H2134.8"/></g>

<!-- 第七篇 -->
<g id="n7a"><text class="t" x="1662" y="2503.6">新店开业流程方案 新店开业宣传方案</text><path class="u" d="M1657 2511.4H1848"/></g>
<g id="n7b"><text class="t" x="1662" y="2551.9"><tspan x="1662">一、公司简介 公司成立于20xx年，现已发展</tspan><tspan x="1662" dy="14.24">至有21家直营店和分布于各省市的60多家加</tspan><tspan x="1662" dy="14.24">盟店，俨然已成为一家专业的儿童摄影连锁机</tspan><tspan x="1662" dy="14.24">构。具备大量的研发和专业摄影师队伍，技术</tspan><tspan x="1662" dy="14.24">力量雄厚。最具权威的是是商务部正式备案的</tspan><tspan x="1662" dy="14.24">特许经营企业。 自20xx年8月成立以来受到</tspan><tspan x="1662" dy="14.24">社会各界媒体关注及鼎力支持，20xx年11月</tspan><tspan x="1662" dy="14.24">公司总经理于战国受邀参加cctv-2激情创业栏</tspan><tspan x="1662" dy="14.24">目，并被评为儿童摄影授业专家，20xx年8月</tspan><tspan x="1662" dy="14.24">韩美人像摄影协会来中国与格林童趣进行了交</tspan><tspan x="1662" dy="14.24">流，并邀请于总出国讲学，20xx年11月中国</tspan><tspan x="1662" dy="14.24">人像摄影协会成立，格林童趣担任理事单位，</tspan><tspan x="1662" dy="14.24">20xx年4月应中国教育电视台之邀成为《梦想</tspan><tspan x="1662" dy="14.24">360》栏目唯一指定拍摄合作机构，20xx年1</tspan><tspan x="1662" dy="14.24">1月格林童趣被评为中国知名专业儿童摄影连</tspan><tspan x="1662" dy="14.24">锁机构，20xx年12月荣获全国十佳杰出儿童</tspan><tspan x="1662" dy="14.24">影楼等。</tspan></text><path class="u" d="M1657 2787H1889"/></g>
<g id="n7c"><text class="t" x="1662" y="2828.6" xml:space="preserve"><tspan x="1662">二、活动目的？抓住分店开业契机，进一步</tspan><tspan x="1662" dy="14.14">提升格林童趣知名度和品牌影响力，提高消费</tspan><tspan x="1662" dy="14.14">者对我方品牌 的信任度和名誉度。 ？以高档</tspan><tspan x="1662" dy="14.14">次、高规模、高格调、高影响为标准，最大限</tspan><tspan x="1662" dy="14.14">度的扩大格林童趣又一分店开业典 礼的影响</tspan><tspan x="1662" dy="14.14">力，引起消费者强烈关注，包装为公众关注焦</tspan><tspan x="1662" dy="14.14">点，利用广大消费者的口碑效应聚焦商气。 ？</tspan><tspan x="1662" dy="14.14"> 通过扩大企业规模，建设强大的专业摄影队</tspan><tspan x="1662" dy="14.14">伍，能够在消费者心中树立高端品牌的形象，</tspan><tspan x="1662" dy="14.14"> 提高格林童趣在顾客心中的定位。 ？借助此</tspan><tspan x="1662" dy="14.14">次开业典礼，使格林童趣向品牌高端化、价位</tspan><tspan x="1662" dy="14.14">竞争化、风格个性化、服务优质化、 管理统</tspan><tspan x="1662" dy="14.14">一化的标准更进一步。</tspan></text><path class="u" d="M1657 3006H1889"/></g>
<g id="n7c1"><text class="t" x="1915" y="2973.3">活动方式：现场抽奖 活动地点：新店现场</text><path class="u" d="M1910 2981.8H2121.4"/></g>
<g id="n7c2"><text class="t" x="1915" y="3022.6">xx年xx月xx日</text><path class="u" d="M1910 3030.7H1986.3"/></g>

<g id="watermarks">
<text class="wm" x="440" y="705" transform="rotate(-34 440 705)">树图 shutu.cn</text>
<text class="wm" x="1645" y="725" transform="rotate(-33 1645 725)">树图 shutu.cn</text>
<text class="wm" x="345" y="1700" transform="rotate(-30 345 1700)">树图 shutu.cn</text>
<text class="wm" x="1640" y="1710" transform="rotate(-31 1640 1710)">树图 shutu.cn</text>
<text class="wm" x="345" y="2700" transform="rotate(-30 345 2700)">树图 shutu.cn</text>
<text class="wm" x="1640" y="2720" transform="rotate(-33 1640 2720)">树图 shutu.cn</text>
</g>
</svg>
